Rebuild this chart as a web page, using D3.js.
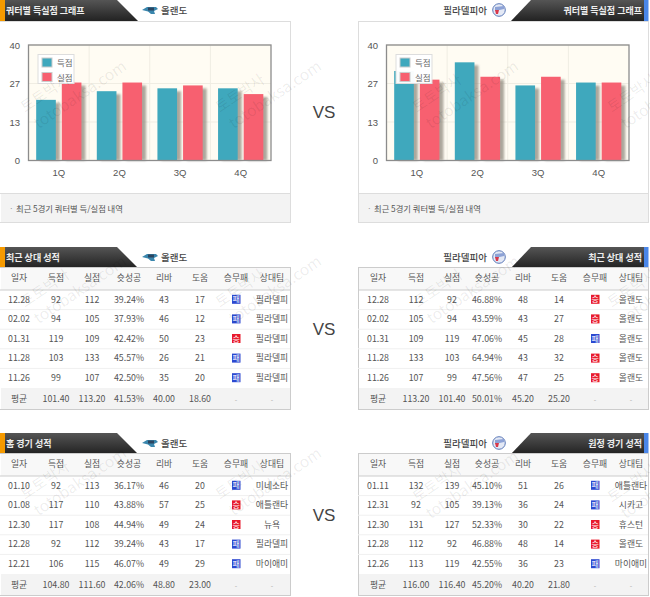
<!DOCTYPE html>
<html>
<head>
<meta charset="utf-8">
<script src="https://cdn.jsdelivr.net/npm/d3@7"></script>
<style>
html, body { margin: 0; padding: 0; background: #fff; overflow: hidden; }
text { font-family: "Noto Sans CJK KR", "Noto Sans", sans-serif; }
.axis text { font-family: "Liberation Sans", sans-serif; font-size: 9.5px; fill: #555; }
.axis path, .axis line { stroke: none; }
</style>
</head>
<body>
<svg id="chart" width="650" height="597"></svg>
<script>
var quarters = ["1Q", "2Q", "3Q", "4Q"];
var yTicks = [0, 13.33, 26.67, 40];
var yTickLabels = ["0", "13", "27", "40"];
var seriesNames = ["득점", "실점"];

var orlandoFor = [21, 24, 25, 25];
var orlandoAgainst = [27, 27, 26, 23];
var phillyFor = [31, 34, 26, 27];
var phillyAgainst = [28, 29, 29, 27];

var columns = ["일자", "득점", "실점", "슛성공", "리바", "도움", "승무패", "상대팀"];

var orlandoRecent = [
  ["12.28", "92", "112", "39.24%", "43", "17", "패", "필라델피"],
  ["02.02", "94", "105", "37.93%", "46", "12", "패", "필라델피"],
  ["01.31", "119", "109", "42.42%", "50", "23", "승", "필라델피"],
  ["11.28", "103", "133", "45.57%", "26", "21", "패", "필라델피"],
  ["11.26", "99", "107", "42.50%", "35", "20", "패", "필라델피"]
];
var orlandoRecentAvg = ["평균", "101.40", "113.20", "41.53%", "40.00", "18.60", "-", "-"];

var phillyRecent = [
  ["12.28", "112", "92", "46.88%", "48", "14", "승", "올랜도"],
  ["02.02", "105", "94", "43.59%", "43", "27", "승", "올랜도"],
  ["01.31", "109", "119", "47.06%", "45", "28", "패", "올랜도"],
  ["11.28", "133", "103", "64.94%", "43", "32", "승", "올랜도"],
  ["11.26", "107", "99", "47.56%", "47", "25", "승", "올랜도"]
];
var phillyRecentAvg = ["평균", "113.20", "101.40", "50.01%", "45.20", "25.20", "-", "-"];

var orlandoHome = [
  ["01.10", "92", "113", "36.17%", "46", "20", "패", "미네소타"],
  ["01.08", "117", "110", "43.88%", "57", "25", "승", "애틀랜타"],
  ["12.30", "117", "108", "44.94%", "49", "24", "승", "뉴욕"],
  ["12.28", "92", "112", "39.24%", "43", "17", "패", "필라델피"],
  ["12.21", "106", "115", "46.07%", "49", "29", "패", "마이애미"]
];
var orlandoHomeAvg = ["평균", "104.80", "111.60", "42.06%", "48.80", "23.00", "-", "-"];

var phillyAway = [
  ["01.11", "132", "139", "45.10%", "51", "26", "패", "애틀랜타"],
  ["12.31", "92", "105", "39.13%", "36", "24", "패", "시카고"],
  ["12.30", "131", "127", "52.33%", "30", "22", "승", "휴스턴"],
  ["12.28", "112", "92", "46.88%", "48", "14", "승", "올랜도"],
  ["12.26", "113", "119", "42.55%", "36", "23", "패", "마이애미"]
];
var phillyAwayAvg = ["평균", "116.00", "116.40", "45.20%", "40.20", "21.80", "-", "-"];

var colorFor = "#3fa8bd", colorAgainst = "#f76070";
var svg = d3.select("#chart");

var defs = svg.append("defs");
var grad = defs.append("linearGradient").attr("id", "bar-dark").attr("x1", 0).attr("x2", 0).attr("y1", 0).attr("y2", 1);
grad.append("stop").attr("offset", "0%").attr("stop-color", "#555");
grad.append("stop").attr("offset", "100%").attr("stop-color", "#222");
var blur = defs.append("filter").attr("id", "soft").attr("x", "-30%").attr("width", "160%");
blur.append("feGaussianBlur").attr("stdDeviation", 1.1);

// header strip, side says which way it slopes
function header(y, title, team, side) {
  var g = svg.append("g").attr("transform", "translate(0," + y + ")");
  if (side == "left") {
    g.append("path").attr("d", "M0 0H117L138 21H0Z").attr("fill", "url(#bar-dark)");
    g.append("rect").attr("width", 5).attr("height", 21).attr("fill", "#f59a00");
    g.append("text").attr("x", 6).attr("y", 14).attr("font-size", 9).attr("font-weight", 700).attr("fill", "#eee").text(title);
    logo(g, 150, 10, "orlando");
    g.append("text").attr("x", 161).attr("y", 13.5).attr("font-size", 9.5).attr("font-weight", 500).attr("fill", "#444").text(team);
  } else {
    g.append("path").attr("d", "M531 0H648V21H511Z").attr("fill", "url(#bar-dark)");
    g.append("rect").attr("x", 644).attr("width", 4.5).attr("height", 21).attr("fill", "#4a86e8");
    g.append("text").attr("x", 642).attr("y", 14).attr("text-anchor", "end").attr("font-size", 9).attr("font-weight", 700).attr("fill", "#eee").text(title);
    logo(g, 499, 10, "philly");
    g.append("text").attr("x", 487).attr("y", 13.5).attr("text-anchor", "end").attr("font-size", 9.5).attr("font-weight", 500).attr("fill", "#444").text(team);
  }
}

function logo(g, cx, cy, kind) {
  var l = g.append("g").attr("transform", "translate(" + cx + "," + cy + ")");
  if (kind == "orlando") {
    l.append("path").attr("d", "M-8 0L-3 -3H6L8 -1L4 1L5 4H1L-2 1.5Z").attr("fill", "#3a86ad");
    l.append("rect").attr("x", -2).attr("y", -2.5).attr("width", 6).attr("height", 3).attr("fill", "#2b4560");
  } else {
    l.append("circle").attr("r", 6.3).attr("fill", "#e4e9f5").attr("stroke", "#5a78b8");
    l.append("path").attr("d", "M-4 -3L5 -4L5 -1L-4 1Z").attr("fill", "#8da2d6");
    l.append("path").attr("d", "M-4 0H0L-1 4H-3Z").attr("fill", "#d8384a");
  }
}

function panelRect(g, panelX, top, h) {
  var x0 = panelX == 0 ? -1 : panelX + 0.5;
  return g.append("rect").attr("x", x0).attr("y", top).attr("width", panelX + 290.5 - x0).attr("height", h);
}

function quarterChart(panelX, forVals, againstVals) {
  var g = svg.append("g");
  // outer panel
  panelRect(g, panelX, 21.5, 201).attr("fill", "#fff").attr("stroke", "#ddd");
  g.append("rect").attr("x", panelX + 1).attr("y", 193).attr("width", 289).attr("height", 29).attr("fill", "#f3f3f3");
  g.append("line").attr("x1", panelX).attr("x2", panelX + 290).attr("y1", 193.5).attr("y2", 193.5).attr("stroke", "#ddd");
  g.append("text").attr("x", panelX + 9).attr("y", 212).attr("font-size", 8.3).attr("fill", "#999").text("·");
  g.append("text").attr("x", panelX + 16).attr("y", 212).attr("font-size", 8.3).attr("fill", "#555")
    .text("최근 5경기 쿼터별 득/실점 내역");

  var left = panelX + 28.5, right = panelX + 271;
  var x = d3.scaleBand().domain(quarters).range([left, right]).padding(0);
  var y = d3.scaleLinear().domain([0, 40]).range([160.5, 45]);
  // 20px bars, 6px gap inside a group
  var inner = d3.scaleBand().domain(seriesNames).range([0, x.bandwidth()]).paddingInner(0.2335).paddingOuter(0.3);
  var vals = [forVals, againstVals], colors = [colorFor, colorAgainst];

  g.append("rect").attr("x", left).attr("y", y(40)).attr("width", right - left).attr("height", y(0) - y(40)).attr("fill", "#fffcf3");
  g.selectAll(".gy").data(yTicks).enter().append("line")
    .attr("x1", left).attr("x2", right).attr("y1", function(d) { return y(d); }).attr("y2", function(d) { return y(d); })
    .attr("stroke", "#f0ede3");
  g.selectAll(".gx").data(quarters.slice(1)).enter().append("line")
    .attr("x1", function(d) { return x(d); }).attr("x2", function(d) { return x(d); })
    .attr("y1", y(40)).attr("y2", y(0)).attr("stroke", "#f0ede3");

  seriesNames.forEach(function(name, s) {
    // soft shadow behind each bar
    g.selectAll(".shadow" + s).data(quarters).enter().append("rect")
      .attr("x", function(d) { return x(d) + inner(name) + 4; })
      .attr("y", function(d, i) { return y(vals[s][i]) + 3; })
      .attr("width", inner.bandwidth())
      .attr("height", function(d, i) { return y(0) - y(vals[s][i]) - 3; })
      .attr("fill", "#8a8478").attr("opacity", 0.7).attr("filter", "url(#soft)");
    g.selectAll(".bar" + s).data(quarters).enter().append("rect")
      .attr("x", function(d) { return x(d) + inner(name); })
      .attr("y", function(d, i) { return y(vals[s][i]); })
      .attr("width", inner.bandwidth())
      .attr("height", function(d, i) { return y(0) - y(vals[s][i]); })
      .attr("fill", colors[s]);
  });

  g.append("rect").attr("x", left).attr("y", y(40)).attr("width", right - left).attr("height", y(0) - y(40))
    .attr("fill", "none").attr("stroke", "#8c8c8c").attr("stroke-width", 1.3);

  g.append("g").attr("class", "axis").attr("transform", "translate(" + (left - 8.5) + ",0)")
    .call(d3.axisLeft(y).tickValues(yTicks).tickSize(0).tickPadding(0).tickFormat(function(d, i) { return yTickLabels[i]; }));
  g.append("g").attr("class", "axis").attr("transform", "translate(0,168)")
    .call(d3.axisBottom(x).tickSize(0).tickPadding(1));

  // legend
  var lg = g.append("g").attr("transform", "translate(" + (panelX + 38) + ",54.5)");
  lg.append("rect").attr("width", 36).attr("height", 29).attr("fill", "#fff").attr("fill-opacity", 0.97).attr("stroke", "#ddd");
  seriesNames.forEach(function(name, s) {
    lg.append("rect").attr("x", 4).attr("y", 3.5 + s * 14.5).attr("width", 10).attr("height", 9)
      .attr("fill", colors[s]).attr("stroke", "#ccc");
    lg.append("text").attr("x", 19).attr("y", 11.5 + s * 14.5).attr("font-size", 8.5).attr("fill", "#666").text(name);
  });
}

function statTable(panelX, top, colX, rows, avg) {
  var rowH = 19.6, headH = 22.5;
  var g = svg.append("g");
  var bodyTop = top + headH;
  var avgTop = bodyTop + rowH * rows.length;
  var bottom = avgTop + 21.5;
  panelRect(g, panelX, top, bottom - top).attr("fill", "#fff").attr("stroke", "#ccc");
  g.append("rect").attr("x", panelX + 1).attr("y", top + 0.5).attr("width", 289).attr("height", headH - 0.5).attr("fill", "#f8f8f8");
  g.append("line").attr("x1", panelX).attr("x2", panelX + 290).attr("y1", bodyTop).attr("y2", bodyTop).attr("stroke", "#ccc");
  g.append("rect").attr("x", panelX + 1).attr("y", avgTop).attr("width", 289).attr("height", bottom - avgTop - 0.5).attr("fill", "#f3f3f3");

  g.selectAll(".sep").data(d3.range(1, rows.length)).enter().append("line")
    .attr("x1", panelX).attr("x2", panelX + 290)
    .attr("y1", function(d) { return bodyTop + d * rowH; }).attr("y2", function(d) { return bodyTop + d * rowH; })
    .attr("stroke", "#f0f0f0");

  function rowText(values, cy, fill, isHead) {
    values.forEach(function(v, i) {
      if (i == 6 && !isHead && v != "-") {
        g.append("rect").attr("x", colX[i] - 4).attr("y", cy - 4.5).attr("width", 8.5).attr("height", 9)
          .attr("fill", v == "승" ? "#e8192c" : "#2c48d0");
        g.append("text").attr("x", colX[i] + 0.2).attr("y", cy + 3).attr("text-anchor", "middle")
          .attr("font-size", 8).attr("fill", "#fff").text(v);
      } else {
        g.append("text").attr("x", colX[i]).attr("y", cy + 3.2).attr("text-anchor", "middle")
          .attr("font-size", v == "-" ? 7 : 8.8).attr("fill", v == "-" ? "#aaa" : fill).text(v);
      }
    });
  }
  rowText(columns, top + headH / 2 - 0.5, "#555", true);
  rows.forEach(function(r, i) { rowText(r, bodyTop + rowH * i + rowH / 2 - 0.5, "#555"); });
  rowText(avg, avgTop + 10.5, "#555");
}

function watermark(x, y) {
  var w = svg.append("g").attr("transform", "translate(" + x + "," + y + ") rotate(-34)")
    .attr("fill", "#000").attr("fill-opacity", 0.08);
  w.append("text").attr("font-size", 15).text("토토박사");
  w.append("text").attr("x", 2).attr("y", 21).attr("font-size", 15.5).text("totobaksa.com");
}

var leftCols = [19, 56, 92, 129, 164, 200, 236, 272];
var rightCols = [378, 416, 452, 487, 523, 559, 595, 631];

header(0, "쿼터별 득실점 그래프", "올랜도", "left");
header(0, "쿼터별 득실점 그래프", "필라델피아", "right");
quarterChart(0, orlandoFor, orlandoAgainst);
quarterChart(358, phillyFor, phillyAgainst);

header(247, "최근 상대 성적", "올랜도", "left");
header(247, "최근 상대 성적", "필라델피아", "right");
statTable(0, 267.5, leftCols, orlandoRecent, orlandoRecentAvg);
statTable(358, 267.5, rightCols, phillyRecent, phillyRecentAvg);

header(433, "홈 경기 성적", "올랜도", "left");
header(433, "원정 경기 성적", "필라델피아", "right");
statTable(0, 453.5, leftCols, orlandoHome, orlandoHomeAvg);
statTable(358, 453.5, rightCols, phillyAway, phillyAwayAvg);

["VS", "VS", "VS"].forEach(function(t, i) {
  svg.append("text").attr("x", 324).attr("y", [118, 335, 521][i]).attr("text-anchor", "middle")
    .style("font-family", "Liberation Sans, sans-serif").attr("font-size", 17).attr("fill", "#444").text(t);
});

[[25, 113], [220, 113], [417, 113], [612, 113],
 [25, 308], [220, 308], [418, 308], [612, 308],
 [25, 500], [220, 500], [417, 503], [612, 503]].forEach(function(p) { watermark(p[0], p[1]); });
</script>
</body>
</html>
